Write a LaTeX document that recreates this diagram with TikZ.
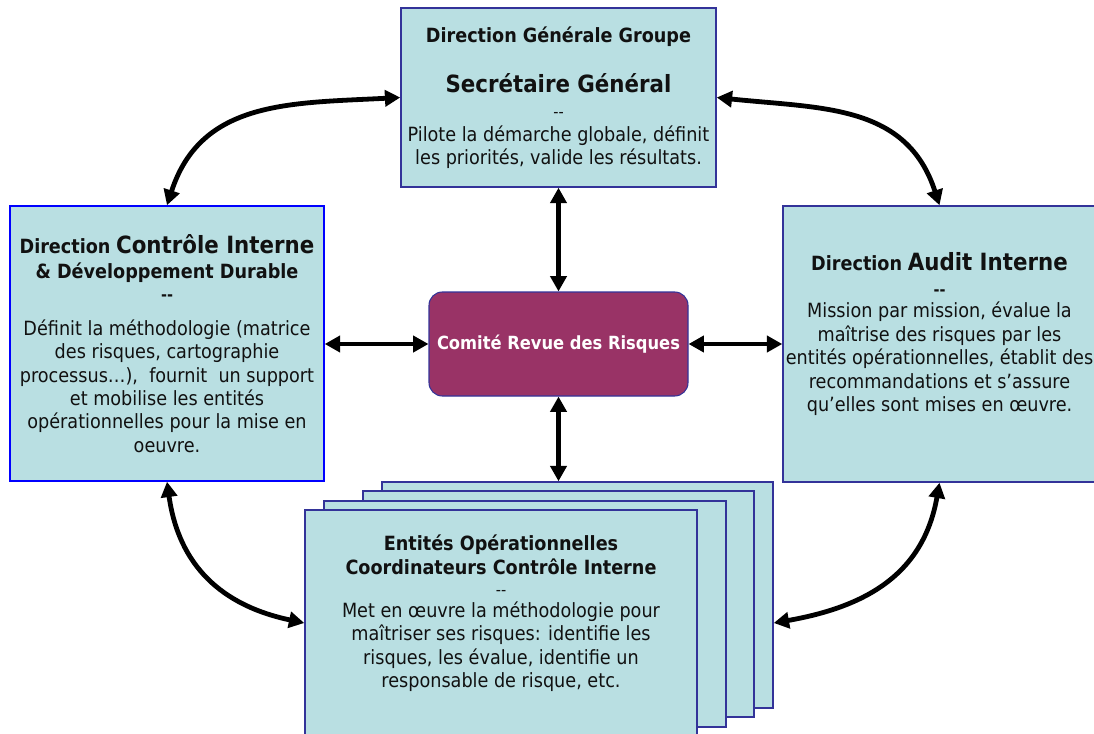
\documentclass[tikz,border=0pt]{standalone}
\usepackage{fontspec}
\setmainfont{DejaVu Sans Condensed}
\usepackage{tikz}
\usetikzlibrary{arrows.meta,calc,positioning}
\definecolor{boxfill}{RGB}{185,223,226}
\definecolor{boxline}{RGB}{51,51,153}
\definecolor{comite}{RGB}{153,51,102}
\definecolor{txt}{RGB}{17,17,17}

\newcommand{\px}{0.75pt}
\newcommand{\titre}[1]{{\fontsize{14.7}{17.6}\bfseries #1}}
\newcommand{\grand}[1]{{\fontsize{17.8}{17.6}\bfseries #1}}
\newcommand{\tiret}{{\fontsize{12}{12}\selectfont -{}-}}
\newcommand{\tiretgras}{{\fontsize{12}{12}\bfseries -{}-}}

\tikzset{
  box/.style={draw=boxline, line width=1.1pt, fill=boxfill, text=txt, align=center,
    inner sep=0pt, font=\fontsize{14.7}{17.6}\selectfont},
  comitebox/.style={draw=boxline, line width=0.8pt, fill=comite, rounded corners=10pt,
    text=white, font=\fontsize{13.6}{16}\bfseries},
  fleche/.style={line width=3.6pt,
    {Triangle[length=11.5pt,width=12pt]}-{Triangle[length=11.5pt,width=12pt]}}
}

\begin{document}
\begin{tikzpicture}[x=0.75pt,y=-0.75pt]
\useasboundingbox (0,0) rectangle (1094,734);

\node[box, minimum width=315*\px, minimum height=179*\px] (dg) at (558.5,97.5) {
\titre{Direction Générale Groupe}\\[19.9pt]
\grand{Secrétaire Général}\\[1.1pt]
\tiret\\[0.4pt]
Pilote la démarche globale, définit\\
les priorités, valide les résultats.};

\node[box, draw=blue, minimum width=314*\px, minimum height=275*\px] (dci) at (167,343.5) {
\titre{Direction} \grand{Contrôle Interne}\\[1.1pt]
\titre{\& Développement Durable}\\[-1.1pt]
\tiretgras\\[8.6pt]
Définit la méthodologie (matrice\\
des risques, cartographie\\
processus…),\ \ fournit\ \ un support\\
et mobilise les entités\\
opérationnelles pour la mise en\\
oeuvre.};

\node[box, minimum width=313*\px, minimum height=276*\px] (dai) at (939.5,344) {
\titre{Direction} \grand{Audit Interne}\\[1.1pt]
\tiretgras\\[-1.1pt]
Mission par mission, évalue la\\
maîtrise des risques par les\\
entités opérationnelles, établit des\\
recommandations et s’assure\\
qu’elles sont mises en œuvre.\\
~};

\node[comitebox, minimum width=259*\px, minimum height=104*\px] (crr) at (558.5,344) {Comité Revue des Risques};

% pile des entites
\node[box, minimum width=391*\px, minimum height=226*\px] (ent4) at (577.5,595) {};
\node[box, minimum width=391*\px, minimum height=226*\px] (ent3) at (558.5,604) {};
\node[box, minimum width=402*\px, minimum height=226*\px] (ent2) at (525,614) {};
\node[box, minimum width=392*\px, minimum height=226*\px] (ent1) at (501,623) {
\titre{Entités Opérationnelles}\\[0.4pt]
\titre{Coordinateurs Contrôle Interne}\\[-1.9pt]
\tiret\\[-1.1pt]
Met en œuvre la méthodologie pour\\
maîtriser ses risques: identifie les\\
risques, les évalue, identifie un\\
responsable de risque, etc.\\
~};

\draw[fleche] (dg.south) -- (crr.north);
\draw[fleche] (crr.south) -- (crr.south |- ent4.north);
\draw[fleche] (crr.west -| dci.east) -- (crr.west);
\draw[fleche] (crr.east) -- (crr.east -| dai.west);

\draw[fleche] (dg.west) to[out=183,in=72,looseness=1.1] (dci.north);
\draw[fleche] (dg.east) to[out=-6,in=108,looseness=1.1] (dai.north);
\draw[fleche] (dci.south) to[out=-82,in=168,looseness=1.1] (ent1.west);
\draw[fleche] (dai.south) to[out=-100,in=10,looseness=1.1] (ent4.east |- ent1.west);
\end{tikzpicture}
\end{document}
